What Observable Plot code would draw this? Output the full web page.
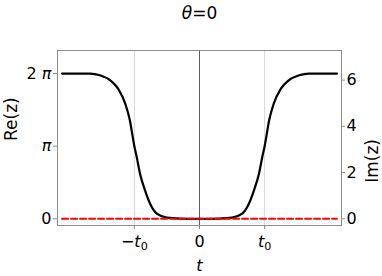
<!DOCTYPE html>
<html><head><meta charset="utf-8">
<script src="https://cdn.jsdelivr.net/npm/d3@7"></script>
<script src="https://cdn.jsdelivr.net/npm/@observablehq/plot@0.6"></script>
<style>
body{margin:0;background:#fff}
svg{font-family:"DejaVu Sans",sans-serif}
</style>
</head><body><div id="chart"></div>
<script>
const tValues  = [-2.11, -1.9, -1.68, -1.53, -1.37, -1.25, -1.14, -1.07, -1.015, -1.0, -0.963, -0.912, -0.835, -0.758, -0.655, -0.5, -0.3, 0, 0.3, 0.5, 0.655, 0.758, 0.835, 0.912, 0.963, 1.0, 1.015, 1.07, 1.14, 1.25, 1.37, 1.53, 1.68, 1.9, 2.11];
const reValues = [6.28, 6.28, 6.28, 6.21, 5.99, 5.63, 4.98, 4.27, 3.37, 3.14, 2.66, 1.94, 1.22, 0.65, 0.22, 0.05, 0.01, 0, 0.01, 0.05, 0.22, 0.65, 1.22, 1.94, 2.66, 3.14, 3.37, 4.27, 4.98, 5.63, 5.99, 6.21, 6.28, 6.28, 6.28];
const imT = [-2.11, 2.11];
const imValues = [0, 0];
const xTicks = [-1, 0, 1];
const xTickLabels = ["−t_0", "0", "t_0"];
const reTicks = [0, Math.PI, 2 * Math.PI];
const reTickLabels = ["0", "π", "2 π"];
const imTicks = [0, 2, 4, 6];
const imTickLabels = ["0", "2", "4", "6"];
const gridT = [-1, 1];
const zeroT = [0];
const titleText = "θ=0";

const reData = tValues.map((t, i) => ({t, v: reValues[i]}));
const imData = imT.map((t, i) => ({t, v: imValues[i]}));

const chart = Plot.plot({
  width: 382, height: 276,
  marginLeft: 57, marginRight: 41, marginTop: 50, marginBottom: 51,
  style: {fontSize: "16px", fontFamily: "'DejaVu Sans', sans-serif", background: "white", overflow: "visible", color: "black"},
  x: {domain: [-2.18, 2.18]},
  y: {domain: [-0.29, 7.28]},
  marks: [
    Plot.ruleX(gridT, {stroke: "#d6d6d6", strokeWidth: 1}),
    Plot.ruleX(zeroT, {stroke: "#333", strokeWidth: 0.8}),
    Plot.frame({stroke: "#8c8c8c", strokeWidth: 1}),
    Plot.axisX({ticks: xTicks, tickFormat: d => xTickLabels[xTicks.indexOf(d)], tickSize: 4, tickPadding: 6, stroke: "#8c8c8c", fill: "black", label: null}),
    Plot.axisY({anchor: "left", ticks: reTicks, tickFormat: d => reTickLabels[reTicks.indexOf(d)], tickSize: 4, tickPadding: 2, stroke: "#8c8c8c", fill: "black", label: null}),
    Plot.axisY({anchor: "right", ticks: imTicks, tickFormat: d => imTickLabels[imTicks.indexOf(d)], tickSize: 3, tickPadding: 2, stroke: "#8c8c8c", fill: "black", label: null}),
    Plot.line(reData, {x: "t", y: "v", stroke: "black", strokeWidth: 2.2, curve: "monotone-x"}),
    Plot.line(imData, {x: "t", y: "v", stroke: "#ff0000", strokeWidth: 2, strokeDasharray: "6,3"}),
    Plot.text([titleText], {frameAnchor: "top", dy: -37, fontSize: 17, lineAnchor: "middle", fill: "black"}),
    Plot.text(["Re(z)"], {frameAnchor: "left", dx: -46, dy: 3, rotate: -90, fontSize: 17, lineAnchor: "middle", fill: "black"}),
    Plot.text(["Im(z)"], {frameAnchor: "right", dx: 31.5, dy: 1, rotate: -90, fontSize: 17, lineAnchor: "middle", fill: "black"}),
    Plot.text(["t"], {frameAnchor: "bottom", dy: 40, lineAnchor: "middle", fill: "black"})
  ]
});

// italic letters and subscripts
d3.select(chart).selectAll("text").each(function () {
  const el = d3.select(this);
  if (el.selectAll("tspan").size() > 0) return;
  const s = this.textContent;
  if (!/[πtθ_]/.test(s)) return;
  el.text("");
  const re = /(_\d)|([πtθ])|([^_πtθ]+)/g;
  let m;
  while ((m = re.exec(s)) !== null) {
    if (m[1]) {
      el.append("tspan").attr("font-size", "0.7em").attr("dy", "0.3em").text(m[1].slice(1));
    } else if (m[2]) {
      el.append("tspan").attr("font-style", "italic").text(m[2]);
    } else {
      el.append("tspan").text(m[3]);
    }
  }
});

document.getElementById("chart").appendChild(chart);
</script>
</body></html>
